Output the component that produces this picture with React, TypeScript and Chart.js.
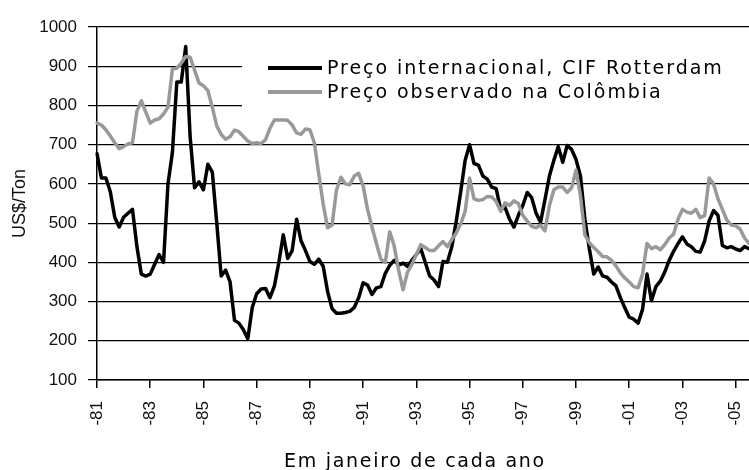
import React, { useEffect, useRef } from 'react';
import { Chart, registerables } from 'chart.js';

Chart.register(...registerables);

// Bimonthly observations starting January 1981
const START_YEAR = 1981;
const STEP_MONTHS = 2;

const yearTickLabels = ['-81', '-83', '-85', '-87', '-89', '-91', '-93', '-95', '-97', '-99', '-01', '-03', '-05'];

const legendLabels = ['Preço internacional, CIF Rotterdam', 'Preço observado na Colômbia'];
const yTitle = 'US$/Ton';
const xTitle = 'Em janeiro de cada ano';

// Preço internacional, CIF Rotterdam (black)
const intlPrice = [
  677, 615, 615, 580, 515, 490, 515, 525, 535, 440,
  370, 365, 370, 395, 420, 400, 600, 680, 860, 860,
  950, 720, 590, 605, 585, 650, 630, 500, 365, 380,
  350, 252, 245, 228, 205, 285, 320, 332, 333, 310,
  340, 400, 470, 410, 430, 510, 455, 430, 402, 395,
  408, 390, 325, 282, 270, 270, 272, 275, 285, 310,
  348, 342, 318, 335, 338, 372, 392, 405, 393, 398,
  390, 405, 420, 435, 400, 365, 355, 338, 402, 400,
  440, 505, 580, 660, 700, 652, 648, 620, 612, 592,
  588, 535, 540, 510, 490, 520, 545, 578, 565, 525,
  502, 560, 620, 660, 695, 655, 698, 688, 662, 620,
  510, 435, 370, 388, 365, 362, 350, 340, 310, 284,
  260, 255, 245, 280, 370, 302, 338, 352, 375, 405,
  428, 448, 465, 447, 440, 428, 426, 455, 505, 532,
  520, 443, 437, 440, 434, 430, 440, 435,
];

// Preço observado na Colômbia (grey)
const colombiaPrice = [
  755, 750, 738, 722, 705, 690, 695, 702, 705, 785,
  812, 783, 755, 763, 766, 778, 795, 893, 895, 908,
  925, 923, 890, 857, 850, 838, 795, 748, 726, 714,
  720, 737, 733, 721, 709, 703, 705, 703, 713, 742,
  763, 763, 763, 762, 750, 730, 726, 740, 738, 705,
  625, 548, 488, 495, 585, 617, 600, 598, 620, 627,
  595, 535, 490, 448, 408, 400, 478, 442, 380, 330,
  375, 395, 420, 445, 438, 430, 430, 442, 453, 440,
  458, 475, 498, 530, 615, 562, 558, 560, 568, 567,
  555, 530, 552, 545, 557, 550, 520, 505, 492, 488,
  495, 480, 545, 585, 592, 592, 578, 590, 635, 570,
  470, 450, 438, 427, 415, 414, 405, 391, 373, 360,
  350, 338, 335, 370, 448, 435, 440, 432, 445, 462,
  472, 510, 535, 528, 525, 535, 514, 519, 615, 600,
  562, 535, 508, 495, 493, 485, 462, 448,
];

const periods = intlPrice.map((_, i) => {
  const m = i * STEP_MONTHS;
  return `${START_YEAR + Math.floor(m / 12)}-${String((m % 12) + 1).padStart(2, '0')}`;
});

const BLACK = '#000000';
const GREY = '#999999';
const TICK_EVERY = 12; // 12 bimonthly steps = 2 years

const decorPlugin = {
  id: 'decor',
  beforeDatasetsDraw(chart: any) {
    const ctx = chart.ctx;
    ctx.save();
    ctx.fillStyle = '#ffffff';
    ctx.fillRect(242, 45, 507, 68);
    ctx.restore();
  },
  afterDraw(chart: any) {
    const ctx = chart.ctx;
    const x = chart.scales.x;
    const area = chart.chartArea;

    // rotated x tick labels (reading bottom-to-top)
    ctx.save();
    ctx.font = '17px "Liberation Sans", Arial, sans-serif';
    ctx.fillStyle = '#111';
    ctx.textAlign = 'right';
    ctx.textBaseline = 'middle';
    yearTickLabels.forEach((lab, j) => {
      const px = x.getPixelForValue(j * TICK_EVERY);
      ctx.save();
      ctx.translate(px, 401);
      ctx.rotate(-Math.PI / 2);
      ctx.fillText(lab, 0, 0);
      ctx.restore();
    });
    ctx.restore();

    // y title
    ctx.save();
    ctx.font = '18px "Liberation Sans", Arial, sans-serif';
    ctx.fillStyle = '#111';
    ctx.textAlign = 'center';
    ctx.textBaseline = 'middle';
    ctx.translate(20, (area.top + area.bottom) / 2);
    ctx.rotate(-Math.PI / 2);
    ctx.fillText(yTitle, 0, 0);
    ctx.restore();

    // x title
    ctx.save();
    ctx.font = '19px "DejaVu Sans", Verdana, sans-serif';
    (ctx as any).letterSpacing = '1.7px';
    ctx.fillStyle = '#000';
    ctx.textAlign = 'center';
    ctx.textBaseline = 'alphabetic';
    ctx.fillText(xTitle, 415, 467);
    ctx.restore();

    // legend
    const items = [
      { label: legendLabels[0], color: BLACK, y: 68 },
      { label: legendLabels[1], color: GREY, y: 92 },
    ];
    ctx.save();
    ctx.font = '19px "DejaVu Sans", Verdana, sans-serif';
    (ctx as any).letterSpacing = '1.95px';
    ctx.textAlign = 'left';
    ctx.textBaseline = 'middle';
    items.forEach((it) => {
      ctx.strokeStyle = it.color;
      ctx.lineWidth = 4;
      ctx.beginPath();
      ctx.moveTo(268, it.y);
      ctx.lineTo(322, it.y);
      ctx.stroke();
      ctx.fillStyle = '#000';
      ctx.fillText(it.label, 327, it.y + 1);
    });
    ctx.restore();
  },
};

export default function App() {
  const ref = useRef<HTMLCanvasElement | null>(null);

  useEffect(() => {
    if (!ref.current) return;
    const chart = new Chart(ref.current, {
      type: 'line',
      data: {
        labels: periods,
        datasets: [
          {
            label: legendLabels[0],
            data: intlPrice,
            borderColor: BLACK,
            backgroundColor: BLACK,
            borderWidth: 3.5,
            pointRadius: 0,
            tension: 0,
            borderJoinStyle: 'round',
            borderCapStyle: 'round',
            order: 1,
          },
          {
            label: legendLabels[1],
            data: colombiaPrice,
            borderColor: GREY,
            backgroundColor: GREY,
            borderWidth: 3.5,
            pointRadius: 0,
            tension: 0,
            borderJoinStyle: 'round',
            borderCapStyle: 'round',
            order: 0,
          },
        ],
      },
      options: {
        animation: false,
        responsive: true,
        maintainAspectRatio: false,
        layout: { padding: { top: 27, right: 0, bottom: 0, left: 0 } },
        plugins: {
          legend: { display: false },
          tooltip: { enabled: false },
          title: { display: false },
        },
        scales: {
          x: {
            type: 'category',
            offset: false,
            ticks: { display: false, autoSkip: false },
            grid: {
              drawOnChartArea: false,
              drawTicks: true,
              tickLength: 8,
              lineWidth: 1.5,
              color: (c: any) => (c.index % TICK_EVERY === 0 ? '#000' : 'rgba(0,0,0,0)'),
            },
            border: { display: true, color: '#000', width: 1.5 },
            afterFit: (scale: any) => {
              scale.height = 90;
            },
          },
          y: {
            min: 100,
            max: 1000,
            ticks: {
              stepSize: 100,
              padding: 11,
              color: '#111',
              font: { family: '"Liberation Sans", Arial, sans-serif', size: 17 },
              callback: (v: any) => String(v),
            },
            grid: {
              color: '#000',
              lineWidth: 1.2,
              tickLength: 9,
              drawTicks: true,
            },
            border: { display: true, color: '#000', width: 1.5 },
            afterFit: (scale: any) => {
              scale.width = 97;
            },
          },
        },
      },
      plugins: [decorPlugin],
    });
    return () => chart.destroy();
  }, []);

  return (
    <div style={{ position: 'fixed', left: 0, top: 0, width: 749, height: 470, background: '#fff' }}>
      <canvas ref={ref} style={{ display: 'block' }} />
    </div>
  );
}
